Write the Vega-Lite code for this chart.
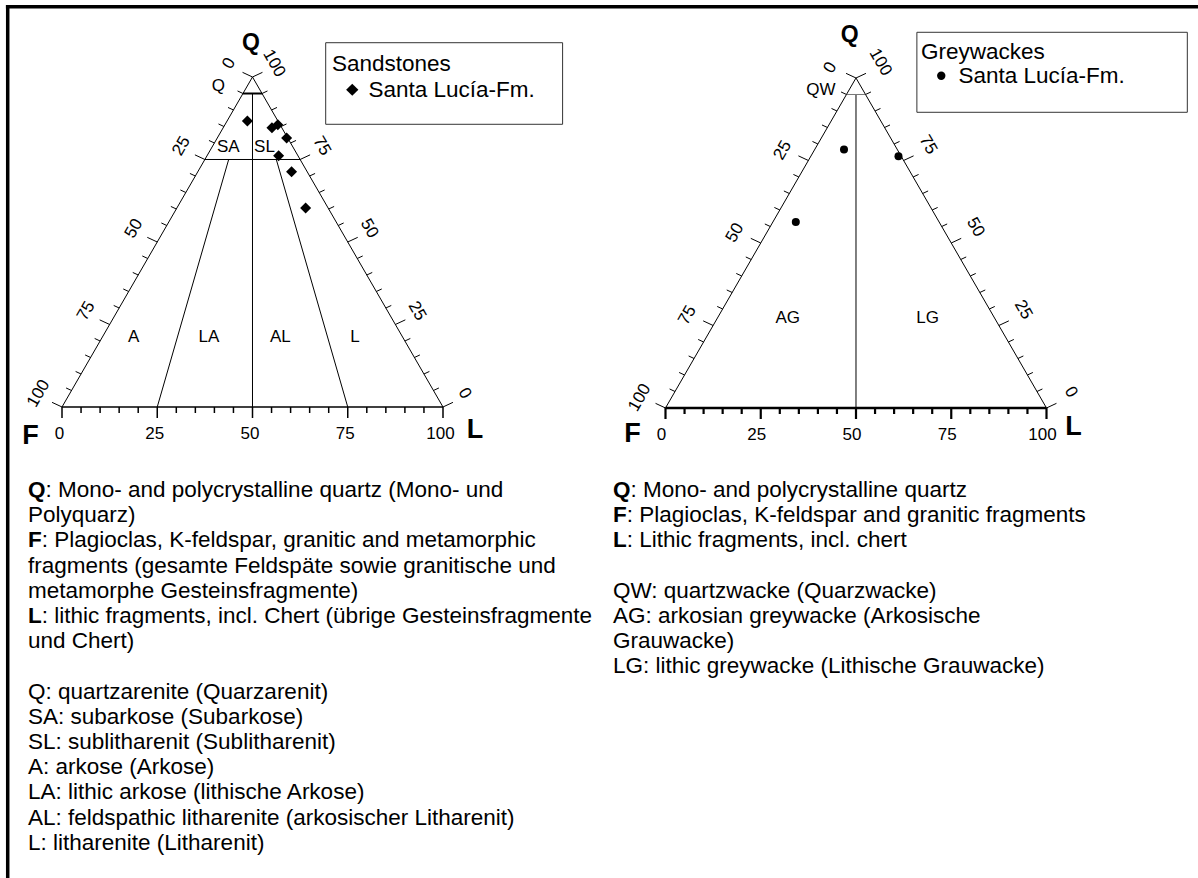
{
  "$schema": "https://vega.github.io/schema/vega-lite/v6.json",
  "padding": 0,
  "spacing": 0,
  "bounds": "flush",
  "background": "white",
  "config": {"view": {"stroke": null}, "font": "Liberation Sans", "concat": {"spacing": 0}},
  "datasets": {
    "ticks": [
      {"s":"b","v":0,"x":0,"y":0,"m":1},{"s":"b","v":5,"x":5,"y":0,"m":0},{"s":"b","v":10,"x":10,"y":0,"m":0},{"s":"b","v":15,"x":15,"y":0,"m":0},{"s":"b","v":20,"x":20,"y":0,"m":0},{"s":"b","v":25,"x":25,"y":0,"m":1},{"s":"b","v":30,"x":30,"y":0,"m":0},{"s":"b","v":35,"x":35,"y":0,"m":0},{"s":"b","v":40,"x":40,"y":0,"m":0},{"s":"b","v":45,"x":45,"y":0,"m":0},{"s":"b","v":50,"x":50,"y":0,"m":1},{"s":"b","v":55,"x":55,"y":0,"m":0},{"s":"b","v":60,"x":60,"y":0,"m":0},{"s":"b","v":65,"x":65,"y":0,"m":0},{"s":"b","v":70,"x":70,"y":0,"m":0},{"s":"b","v":75,"x":75,"y":0,"m":1},{"s":"b","v":80,"x":80,"y":0,"m":0},{"s":"b","v":85,"x":85,"y":0,"m":0},{"s":"b","v":90,"x":90,"y":0,"m":0},{"s":"b","v":95,"x":95,"y":0,"m":0},{"s":"b","v":100,"x":100,"y":0,"m":1},
      {"s":"l","v":0,"x":50,"y":100,"m":1},{"s":"l","v":5,"x":47.5,"y":95,"m":0},{"s":"l","v":10,"x":45,"y":90,"m":0},{"s":"l","v":15,"x":42.5,"y":85,"m":0},{"s":"l","v":20,"x":40,"y":80,"m":0},{"s":"l","v":25,"x":37.5,"y":75,"m":1},{"s":"l","v":30,"x":35,"y":70,"m":0},{"s":"l","v":35,"x":32.5,"y":65,"m":0},{"s":"l","v":40,"x":30,"y":60,"m":0},{"s":"l","v":45,"x":27.5,"y":55,"m":0},{"s":"l","v":50,"x":25,"y":50,"m":1},{"s":"l","v":55,"x":22.5,"y":45,"m":0},{"s":"l","v":60,"x":20,"y":40,"m":0},{"s":"l","v":65,"x":17.5,"y":35,"m":0},{"s":"l","v":70,"x":15,"y":30,"m":0},{"s":"l","v":75,"x":12.5,"y":25,"m":1},{"s":"l","v":80,"x":10,"y":20,"m":0},{"s":"l","v":85,"x":7.5,"y":15,"m":0},{"s":"l","v":90,"x":5,"y":10,"m":0},{"s":"l","v":95,"x":2.5,"y":5,"m":0},{"s":"l","v":100,"x":0,"y":0,"m":1},
      {"s":"r","v":0,"x":100,"y":0,"m":1},{"s":"r","v":5,"x":97.5,"y":5,"m":0},{"s":"r","v":10,"x":95,"y":10,"m":0},{"s":"r","v":15,"x":92.5,"y":15,"m":0},{"s":"r","v":20,"x":90,"y":20,"m":0},{"s":"r","v":25,"x":87.5,"y":25,"m":1},{"s":"r","v":30,"x":85,"y":30,"m":0},{"s":"r","v":35,"x":82.5,"y":35,"m":0},{"s":"r","v":40,"x":80,"y":40,"m":0},{"s":"r","v":45,"x":77.5,"y":45,"m":0},{"s":"r","v":50,"x":75,"y":50,"m":1},{"s":"r","v":55,"x":72.5,"y":55,"m":0},{"s":"r","v":60,"x":70,"y":60,"m":0},{"s":"r","v":65,"x":67.5,"y":65,"m":0},{"s":"r","v":70,"x":65,"y":70,"m":0},{"s":"r","v":75,"x":62.5,"y":75,"m":1},{"s":"r","v":80,"x":60,"y":80,"m":0},{"s":"r","v":85,"x":57.5,"y":85,"m":0},{"s":"r","v":90,"x":55,"y":90,"m":0},{"s":"r","v":95,"x":52.5,"y":95,"m":0},{"s":"r","v":100,"x":50,"y":100,"m":1}
    ],
    "linesL": [
      {"p":"side","x":0,"y":0,"x2":50,"y2":100},
      {"p":"side","x":100,"y":0,"x2":50,"y2":100},
      {"p":"base","x":0,"y":0,"x2":100,"y2":0},
      {"p":"q95","x":47.5,"y":95,"x2":52.5,"y2":95},
      {"p":"in","x":37.5,"y":75,"x2":62.5,"y2":75},
      {"p":"in","x":50,"y":95,"x2":50,"y2":0},
      {"p":"in","x":25,"y":0,"x2":43.75,"y2":75},
      {"p":"in","x":75,"y":0,"x2":56.25,"y2":75}
    ],
    "linesR": [
      {"p":"side","x":0,"y":0,"x2":50,"y2":100},
      {"p":"side","x":100,"y":0,"x2":50,"y2":100},
      {"p":"base","x":0,"y":0,"x2":100,"y2":0},
      {"p":"q95","x":47.5,"y":95,"x2":52.5,"y2":95},
      {"p":"in","x":50,"y":95,"x2":50,"y2":0}
    ],
    "vertL": [
      {"t":"Q","x":49.61,"y":110.3,"k":"top"},
      {"t":"F","x":-8.24,"y":-8.7,"k":"base"},
      {"t":"L","x":108.4,"y":-7.0,"k":"base"}
    ],
    "vertR": [
      {"t":"Q","x":48.37,"y":112.9,"k":"top"},
      {"t":"F","x":-8.69,"y":-7.8,"k":"base"},
      {"t":"L","x":107.09,"y":-5.9,"k":"base"}
    ],
    "regL": [
      {"t":"Q","x":41.02,"y":97.27},
      {"t":"SA","x":43.65,"y":78.64},
      {"t":"SL","x":53.15,"y":78.64},
      {"t":"A","x":18.79,"y":21.3},
      {"t":"LA","x":38.58,"y":21.3},
      {"t":"AL","x":57.3,"y":21.3},
      {"t":"L","x":76.9,"y":21.3}
    ],
    "regR": [
      {"t":"QW","x":40.81,"y":96.36},
      {"t":"AG","x":32.1,"y":27.42},
      {"t":"LG","x":68.79,"y":27.42}
    ],
    "sand": [
      {"group":"Santa Lucía-Fm.","Q":86.7,"F":8.0,"L":5.3},
      {"group":"Santa Lucía-Fm.","Q":84.6,"F":2.6,"L":12.8},
      {"group":"Santa Lucía-Fm.","Q":85.5,"F":0.6,"L":13.9},
      {"group":"Santa Lucía-Fm.","Q":81.5,"F":0.3,"L":18.2},
      {"group":"Santa Lucía-Fm.","Q":76.1,"F":5.1,"L":18.8},
      {"group":"Santa Lucía-Fm.","Q":71.3,"F":4.1,"L":24.6},
      {"group":"Santa Lucía-Fm.","Q":60.3,"F":5.9,"L":33.8}
    ],
    "grey": [
      {"group":"Santa Lucía-Fm.","Q":78.3,"F":14.0,"L":7.7},
      {"group":"Santa Lucía-Fm.","Q":76.3,"F":0.7,"L":23.0},
      {"group":"Santa Lucía-Fm.","Q":56.4,"F":37.6,"L":6.0}
    ],
    "notesL": [
      {"line":0,"b":"Q","t":": Mono- and polycrystalline quartz (Mono- und"},
      {"line":1,"b":"","t":"Polyquarz)"},
      {"line":2,"b":"F","t":": Plagioclas, K-feldspar, granitic and metamorphic"},
      {"line":3,"b":"","t":"fragments (gesamte Feldspäte sowie granitische und"},
      {"line":4,"b":"","t":"metamorphe Gesteinsfragmente)"},
      {"line":5,"b":"L","t":": lithic fragments, incl. Chert (übrige Gesteinsfragmente"},
      {"line":6,"b":"","t":"und Chert)"},
      {"line":8,"b":"","t":"Q: quartzarenite (Quarzarenit)"},
      {"line":9,"b":"","t":"SA: subarkose (Subarkose)"},
      {"line":10,"b":"","t":"SL: sublitharenit (Sublitharenit)"},
      {"line":11,"b":"","t":"A: arkose (Arkose)"},
      {"line":12,"b":"","t":"LA: lithic arkose (lithische Arkose)"},
      {"line":13,"b":"","t":"AL: feldspathic litharenite (arkosischer Litharenit)"},
      {"line":14,"b":"","t":"L: litharenite (Litharenit)"}
    ],
    "notesR": [
      {"line":0,"b":"Q","t":": Mono- and polycrystalline quartz"},
      {"line":1,"b":"F","t":": Plagioclas, K-feldspar and granitic fragments"},
      {"line":2,"b":"L","t":": Lithic fragments, incl. chert"},
      {"line":4,"b":"","t":"QW: quartzwacke (Quarzwacke)"},
      {"line":5,"b":"","t":"AG: arkosian greywacke (Arkosische"},
      {"line":6,"b":"","t":"Grauwacke)"},
      {"line":7,"b":"","t":"LG: lithic greywacke (Lithische Grauwacke)"}
    ]
  },
  "hconcat": [
    {
      "width": 599,
      "height": 878,
      "resolve": {"scale": {"y": "independent"}},
      "layer": [
        {
          "layer": [
            {
              "encoding": {
                "x": {"field": "x", "type": "quantitative", "scale": {"domain": [-16.273, 140.945], "nice": false, "zero": false}, "axis": null},
                "y": {"field": "y", "type": "quantitative", "scale": {"domain": [-142.727, 123.333], "nice": false, "zero": false}, "axis": null}
              },
              "layer": [
                {"data": {"name": "linesL"}, "transform": [{"filter": "datum.p == 'side' || datum.p == 'in'"}], "mark": {"type": "rule", "color": "black", "strokeWidth": 1}, "encoding": {"x2": {"field": "x2"}, "y2": {"field": "y2"}}},
                {"data": {"name": "linesL"}, "transform": [{"filter": "datum.p == 'base'"}], "mark": {"type": "rule", "color": "black", "strokeWidth": 1.5}, "encoding": {"x2": {"field": "x2"}, "y2": {"field": "y2"}}},
                {"data": {"name": "linesL"}, "transform": [{"filter": "datum.p == 'q95'"}], "mark": {"type": "rule", "color": "black", "strokeWidth": 2}, "encoding": {"x2": {"field": "x2"}, "y2": {"field": "y2"}}},
                {"data": {"name": "ticks"}, "transform": [{"filter": "datum.s == 'b'"}], "mark": {"type": "point", "shape": "M0,0L0,1", "filled": false, "color": "black", "opacity": 1, "strokeWidth": 1.5}, "encoding": {"size": {"field": "m", "type": "nominal", "scale": {"domain": [0, 1], "range": [144, 484]}, "legend": null}}},
                {"data": {"name": "ticks"}, "transform": [{"filter": "datum.s == 'l'"}], "mark": {"type": "point", "shape": "M0,0L-0.906,-0.423", "filled": false, "color": "black", "opacity": 1, "strokeWidth": 1}, "encoding": {"size": {"field": "m", "type": "nominal", "scale": {"domain": [0, 1], "range": [144, 400]}, "legend": null}}},
                {"data": {"name": "ticks"}, "transform": [{"filter": "datum.s == 'r'"}], "mark": {"type": "point", "shape": "M0,0L0.906,-0.423", "filled": false, "color": "black", "opacity": 1, "strokeWidth": 1}, "encoding": {"size": {"field": "m", "type": "nominal", "scale": {"domain": [0, 1], "range": [144, 400]}, "legend": null}}},
                {"data": {"name": "ticks"}, "transform": [{"filter": "datum.s == 'b' && datum.m == 1"}], "mark": {"type": "text", "fontSize": 17, "color": "black", "align": "center", "baseline": "middle", "dy": 27, "dx": -2.5}, "encoding": {"text": {"field": "v", "type": "quantitative", "format": "d"}}},
                {"data": {"name": "ticks"}, "transform": [{"filter": "datum.s == 'l' && datum.m == 1"}], "mark": {"type": "text", "fontSize": 17, "color": "black", "align": "center", "baseline": "middle", "angle": -60, "dy": -27}, "encoding": {"text": {"field": "v", "type": "quantitative", "format": "d"}}},
                {"data": {"name": "ticks"}, "transform": [{"filter": "datum.s == 'r' && datum.m == 1"}], "mark": {"type": "text", "fontSize": 17, "color": "black", "align": "center", "baseline": "middle", "angle": 60, "dy": -25.5, "dx": -1}, "encoding": {"text": {"field": "v", "type": "quantitative", "format": "d"}}},
                {"data": {"name": "vertL"}, "transform": [{"filter": "datum.k == 'top'"}], "mark": {"type": "text", "fontSize": 23, "fontWeight": "bold", "color": "black", "align": "center", "baseline": "middle"}, "encoding": {"text": {"field": "t"}}},
                {"data": {"name": "vertL"}, "transform": [{"filter": "datum.k == 'base'"}], "mark": {"type": "text", "fontSize": 27, "fontWeight": "bold", "color": "black", "align": "center", "baseline": "middle"}, "encoding": {"text": {"field": "t"}}},
                {"data": {"name": "regL"}, "mark": {"type": "text", "fontSize": 17, "color": "black", "align": "center", "baseline": "middle"}, "encoding": {"text": {"field": "t"}}},
                {
                  "data": {"name": "sand"},
                  "transform": [{"calculate": "datum.L + datum.Q / 2", "as": "x"}, {"calculate": "datum.Q", "as": "y"}],
                  "mark": {"type": "point", "filled": true, "color": "black", "opacity": 1, "size": 121},
                  "encoding": {
                    "shape": {
                      "field": "group", "type": "nominal",
                      "scale": {"domain": ["Santa Lucía-Fm."], "range": ["diamond"]},
                      "legend": {
                        "title": "Sandstones", "orient": "none", "legendX": 332, "legendY": 53, "padding": 0,
                        "titleFont": "Liberation Sans", "titleFontSize": 22.5, "titleFontWeight": "normal", "titleColor": "black", "titlePadding": 3,
                        "labelFont": "Liberation Sans", "labelFontSize": 22.5, "labelColor": "black", "labelLimit": 400, "labelOffset": 5,
                        "symbolSize": 150, "symbolFillColor": "black", "symbolStrokeColor": "black", "symbolStrokeWidth": 0, "symbolOpacity": 1, "symbolOffset": 9
                      }
                    }
                  }
                }
              ]
            },
            {
              "data": {"values": [{}]},
              "layer": [
                {"mark": {"type": "rect", "filled": false, "color": "#333333", "strokeWidth": 1}, "encoding": {"x": {"datum": 69.21}, "x2": {"datum": 131.39}, "y": {"datum": 110.39}, "y2": {"datum": 85.67}}},
                {"mark": {"type": "rule", "color": "black", "strokeWidth": 3.5}, "encoding": {"x": {"datum": -14.25}, "y": {"datum": 121.82}, "y2": {"datum": -142.727}}},
                {"mark": {"type": "rule", "color": "black", "strokeWidth": 3.5}, "encoding": {"y": {"datum": 121.3}, "x": {"datum": -14.72}, "x2": {"datum": 140.945}}}
              ]
            }
          ]
        },
        {
          "data": {"name": "notesL"},
          "encoding": {
            "x": {"datum": -8.92},
            "y": {"field": "line", "type": "quantitative", "scale": {"domain": [-19.722, 15.119], "reverse": true, "nice": false, "zero": false}, "axis": null}
          },
          "layer": [
            {"transform": [{"filter": "datum.b != ''"}], "mark": {"type": "text", "fontSize": 22.5, "fontWeight": "bold", "color": "black", "align": "left", "baseline": "alphabetic"}, "encoding": {"text": {"field": "b"}}},
            {"transform": [{"filter": "datum.b == 'Q'"}], "mark": {"type": "text", "fontSize": 22.5, "color": "black", "align": "left", "baseline": "alphabetic", "dx": 17.5}, "encoding": {"text": {"field": "t"}}},
            {"transform": [{"filter": "datum.b == 'F' || datum.b == 'L'"}], "mark": {"type": "text", "fontSize": 22.5, "color": "black", "align": "left", "baseline": "alphabetic", "dx": 13.75}, "encoding": {"text": {"field": "t"}}},
            {"transform": [{"filter": "datum.b == ''"}], "mark": {"type": "text", "fontSize": 22.5, "color": "black", "align": "left", "baseline": "alphabetic"}, "encoding": {"text": {"field": "t"}}}
          ]
        }
      ]
    },
    {
      "width": 599,
      "height": 878,
      "resolve": {"scale": {"y": "independent"}},
      "layer": [
        {
          "layer": [
            {
              "encoding": {
                "x": {"field": "x", "type": "quantitative", "scale": {"domain": [-17.454, 139.764], "nice": false, "zero": false}, "axis": null},
                "y": {"field": "y", "type": "quantitative", "scale": {"domain": [-142.424, 123.636], "nice": false, "zero": false}, "axis": null}
              },
              "layer": [
                {"data": {"name": "linesR"}, "transform": [{"filter": "datum.p == 'side' || datum.p == 'in'"}], "mark": {"type": "rule", "color": "black", "strokeWidth": 1}, "encoding": {"x2": {"field": "x2"}, "y2": {"field": "y2"}}},
                {"data": {"name": "linesR"}, "transform": [{"filter": "datum.p == 'base'"}], "mark": {"type": "rule", "color": "black", "strokeWidth": 2.5}, "encoding": {"x2": {"field": "x2"}, "y2": {"field": "y2"}}},
                {"data": {"name": "linesR"}, "transform": [{"filter": "datum.p == 'q95'"}], "mark": {"type": "rule", "color": "#777777", "strokeWidth": 1}, "encoding": {"x2": {"field": "x2"}, "y2": {"field": "y2"}}},
                {"data": {"name": "ticks"}, "transform": [{"filter": "datum.s == 'b'"}], "mark": {"type": "point", "shape": "M0,0L0,1", "filled": false, "color": "black", "opacity": 1, "strokeWidth": 2.2}, "encoding": {"size": {"field": "m", "type": "nominal", "scale": {"domain": [0, 1], "range": [144, 484]}, "legend": null}}},
                {"data": {"name": "ticks"}, "transform": [{"filter": "datum.s == 'l'"}], "mark": {"type": "point", "shape": "M0,0L-0.906,-0.423", "filled": false, "color": "black", "opacity": 1, "strokeWidth": 1}, "encoding": {"size": {"field": "m", "type": "nominal", "scale": {"domain": [0, 1], "range": [144, 400]}, "legend": null}}},
                {"data": {"name": "ticks"}, "transform": [{"filter": "datum.s == 'r'"}], "mark": {"type": "point", "shape": "M0,0L0.906,-0.423", "filled": false, "color": "black", "opacity": 1, "strokeWidth": 1}, "encoding": {"size": {"field": "m", "type": "nominal", "scale": {"domain": [0, 1], "range": [144, 400]}, "legend": null}}},
                {"data": {"name": "ticks"}, "transform": [{"filter": "datum.s == 'b' && datum.m == 1"}], "mark": {"type": "text", "fontSize": 17, "color": "black", "align": "center", "baseline": "middle", "dy": 27, "dx": -4}, "encoding": {"text": {"field": "v", "type": "quantitative", "format": "d"}}},
                {"data": {"name": "ticks"}, "transform": [{"filter": "datum.s == 'l' && datum.m == 1"}], "mark": {"type": "text", "fontSize": 17, "color": "black", "align": "center", "baseline": "middle", "angle": -60, "dy": -27.5, "dx": -4}, "encoding": {"text": {"field": "v", "type": "quantitative", "format": "d"}}},
                {"data": {"name": "ticks"}, "transform": [{"filter": "datum.s == 'r' && datum.m == 1"}], "mark": {"type": "text", "fontSize": 17, "color": "black", "align": "center", "baseline": "middle", "angle": 60, "dy": -29, "dx": -1.5}, "encoding": {"text": {"field": "v", "type": "quantitative", "format": "d"}}},
                {"data": {"name": "vertR"}, "transform": [{"filter": "datum.k == 'top'"}], "mark": {"type": "text", "fontSize": 23, "fontWeight": "bold", "color": "black", "align": "center", "baseline": "middle"}, "encoding": {"text": {"field": "t"}}},
                {"data": {"name": "vertR"}, "transform": [{"filter": "datum.k == 'base'"}], "mark": {"type": "text", "fontSize": 27, "fontWeight": "bold", "color": "black", "align": "center", "baseline": "middle"}, "encoding": {"text": {"field": "t"}}},
                {"data": {"name": "regR"}, "mark": {"type": "text", "fontSize": 17, "color": "black", "align": "center", "baseline": "middle"}, "encoding": {"text": {"field": "t"}}},
                {
                  "data": {"name": "grey"},
                  "transform": [{"calculate": "datum.L + datum.Q / 2", "as": "x"}, {"calculate": "datum.Q", "as": "y"}],
                  "mark": {"type": "point", "filled": true, "color": "black", "opacity": 1, "size": 64},
                  "encoding": {
                    "shape": {
                      "field": "group", "type": "nominal",
                      "scale": {"domain": ["Santa Lucía-Fm."], "range": ["circle"]},
                      "legend": {
                        "title": "Greywackes", "orient": "none", "legendX": 322, "legendY": 41, "padding": 0,
                        "titleFont": "Liberation Sans", "titleFontSize": 22.5, "titleFontWeight": "normal", "titleColor": "black", "titlePadding": 1,
                        "labelFont": "Liberation Sans", "labelFontSize": 22.5, "labelColor": "black", "labelLimit": 400, "labelOffset": 6,
                        "symbolSize": 70, "symbolFillColor": "black", "symbolStrokeColor": "black", "symbolStrokeWidth": 0, "symbolOpacity": 1, "symbolOffset": 9
                      }
                    }
                  }
                }
              ]
            },
            {
              "data": {"values": [{}]},
              "layer": [
                {"mark": {"type": "rect", "filled": false, "color": "#333333", "strokeWidth": 1}, "encoding": {"x": {"datum": 65.98}, "x2": {"datum": 136.96}, "y": {"datum": 113.85}, "y2": {"datum": 89.61}}},
                {"mark": {"type": "rule", "color": "black", "strokeWidth": 3.5}, "encoding": {"y": {"datum": 121.61}, "x": {"datum": -17.454}, "x2": {"datum": 139.764}}}
              ]
            }
          ]
        },
        {
          "data": {"name": "notesR"},
          "encoding": {
            "x": {"datum": -13.78},
            "y": {"field": "line", "type": "quantitative", "scale": {"domain": [-19.722, 15.119], "reverse": true, "nice": false, "zero": false}, "axis": null}
          },
          "layer": [
            {"transform": [{"filter": "datum.b != ''"}], "mark": {"type": "text", "fontSize": 22.5, "fontWeight": "bold", "color": "black", "align": "left", "baseline": "alphabetic"}, "encoding": {"text": {"field": "b"}}},
            {"transform": [{"filter": "datum.b == 'Q'"}], "mark": {"type": "text", "fontSize": 22.5, "color": "black", "align": "left", "baseline": "alphabetic", "dx": 17.5}, "encoding": {"text": {"field": "t"}}},
            {"transform": [{"filter": "datum.b == 'F' || datum.b == 'L'"}], "mark": {"type": "text", "fontSize": 22.5, "color": "black", "align": "left", "baseline": "alphabetic", "dx": 13.75}, "encoding": {"text": {"field": "t"}}},
            {"transform": [{"filter": "datum.b == ''"}], "mark": {"type": "text", "fontSize": 22.5, "color": "black", "align": "left", "baseline": "alphabetic"}, "encoding": {"text": {"field": "t"}}}
          ]
        }
      ]
    }
  ],
  "resolve": {"scale": {"shape": "independent", "x": "independent", "y": "independent", "size": "independent"}, "legend": {"shape": "independent"}}
}
